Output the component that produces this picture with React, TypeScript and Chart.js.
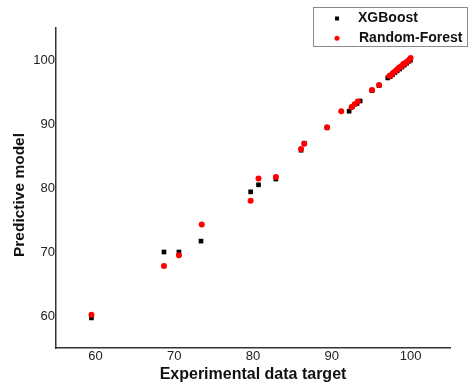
import React, { useEffect, useRef } from "react";
import { Chart, registerables } from "chart.js";

Chart.register(...registerables);

const xgbX = [59.5, 68.7, 70.6, 73.4, 79.7, 80.7, 82.9, 86.1, 86.5, 89.4, 92.2, 92.6, 93.2, 93.6, 95.1, 96.0, 97.1, 97.4, 97.7, 98.0, 98.3, 98.6, 98.9, 99.2, 99.5, 99.8, 100.0];
const xgbY = [59.7, 70.0, 70.0, 71.7, 79.4, 80.5, 81.4, 85.9, 87.0, 89.4, 92.0, 92.7, 93.2, 93.6, 95.2, 96.0, 97.2, 97.4, 97.7, 98.0, 98.3, 98.6, 98.9, 99.2, 99.5, 99.8, 100.0];

const rfX = [59.5, 68.7, 70.6, 73.5, 79.7, 80.7, 82.9, 86.1, 86.5, 89.4, 91.2, 92.5, 92.9, 93.3, 95.1, 96.0, 97.3, 97.5, 97.7, 97.9, 98.1, 98.3, 98.5, 98.7, 98.9, 99.1, 99.3, 99.5, 99.7, 99.9, 100.0];
const rfY = [60.2, 67.8, 69.5, 74.3, 78.0, 81.5, 81.7, 86.1, 86.9, 89.5, 92.0, 92.6, 93.1, 93.5, 95.3, 96.1, 97.5, 97.6, 97.9, 98.1, 98.3, 98.5, 98.8, 98.9, 99.1, 99.4, 99.5, 99.7, 99.9, 100.1, 100.3];

const xTicks = [60, 70, 80, 90, 100];
const yTicks = [60, 70, 80, 90, 100];
const seriesNames = ["XGBoost", "Random-Forest"];
const xTitle = "Experimental data target";
const yTitle = "Predictive model";

const FONT = 'Arial, "Liberation Sans", sans-serif';

const overlayPlugin = {
  id: "overlay",
  afterDraw(chart: any) {
    const ctx = chart.ctx;
    const area = chart.chartArea;
    ctx.save();
    // axis titles
    ctx.fillStyle = "#111";
    ctx.textAlign = "center";
    ctx.textBaseline = "middle";
    ctx.font = `bold 16px ${FONT}`;
    ctx.fillText(xTitle, (area.left + area.right) / 2, 375);
    ctx.save();
    ctx.translate(20, 195);
    ctx.rotate(-Math.PI / 2);
    ctx.font = `bold 15.5px ${FONT}`;
    ctx.fillText(yTitle, 0, 0);
    ctx.restore();

    // legend box
    ctx.fillStyle = "#fff";
    ctx.fillRect(313.5, 7.5, 154, 39);
    ctx.strokeStyle = "#8a8a8a";
    ctx.lineWidth = 1;
    ctx.strokeRect(313.5, 7.5, 154, 39);
    // markers
    ctx.fillStyle = "#000";
    ctx.fillRect(335, 16.5, 4, 4);
    ctx.fillStyle = "#ff0000";
    ctx.beginPath();
    ctx.arc(337, 38.3, 2.5, 0, Math.PI * 2);
    ctx.fill();
    ctx.fillStyle = "#111";
    ctx.textAlign = "left";
    ctx.font = `bold 14px ${FONT}`;
    ctx.fillText(seriesNames[0], 358, 18.5);
    ctx.fillText(seriesNames[1], 359, 38.5);
    ctx.restore();
  },
};

export default function App() {
  const ref = useRef<HTMLCanvasElement | null>(null);
  useEffect(() => {
    if (!ref.current) return;
    const chart = new Chart(ref.current, {
      type: "scatter",
      data: {
        datasets: [
          {
            label: seriesNames[0],
            data: xgbX.map((x, i) => ({ x, y: xgbY[i] })),
            pointStyle: "rect",
            pointRadius: 3.3,
            pointBorderWidth: 0,
            backgroundColor: "#000",
            borderColor: "#000",
            order: 2,
          },
          {
            label: seriesNames[1],
            data: rfX.map((x, i) => ({ x, y: rfY[i] })),
            pointStyle: "circle",
            pointRadius: 3,
            pointBorderWidth: 0,
            backgroundColor: "#ff0000",
            borderColor: "#ff0000",
            order: 1,
          },
        ],
      },
      plugins: [overlayPlugin],
      options: {
        responsive: false,
        animation: false,
        layout: { padding: { top: 28, right: 21, left: 0, bottom: 0 } },
        plugins: { legend: { display: false }, tooltip: { enabled: false } },
        scales: {
          x: {
            type: "linear",
            min: 55,
            max: 105,
            afterBuildTicks: (s: any) => {
              s.ticks = xTicks.map((v) => ({ value: v }));
            },
            afterFit: (s: any) => {
              s.height = 40;
            },
            grid: { display: false, drawTicks: false },
            border: { display: true, color: "#333", width: 1.5 },
            ticks: {
              padding: 1,
              color: "#222",
              font: { family: FONT, size: 13 },
            },
          },
          y: {
            type: "linear",
            min: 55,
            max: 105,
            afterBuildTicks: (s: any) => {
              s.ticks = yTicks.map((v) => ({ value: v }));
            },
            afterFit: (s: any) => {
              s.width = 56;
            },
            grid: { display: false, drawTicks: false },
            border: { display: true, color: "#333", width: 1.5 },
            ticks: {
              padding: 1,
              color: "#222",
              font: { family: FONT, size: 13 },
            },
          },
        },
      },
    });
    return () => chart.destroy();
  }, []);
  return (
    <div style={{ position: "fixed", left: 0, top: 0, width: 471, height: 388, background: "#fff" }}>
      <canvas ref={ref} width={471} height={388} />
    </div>
  );
}
